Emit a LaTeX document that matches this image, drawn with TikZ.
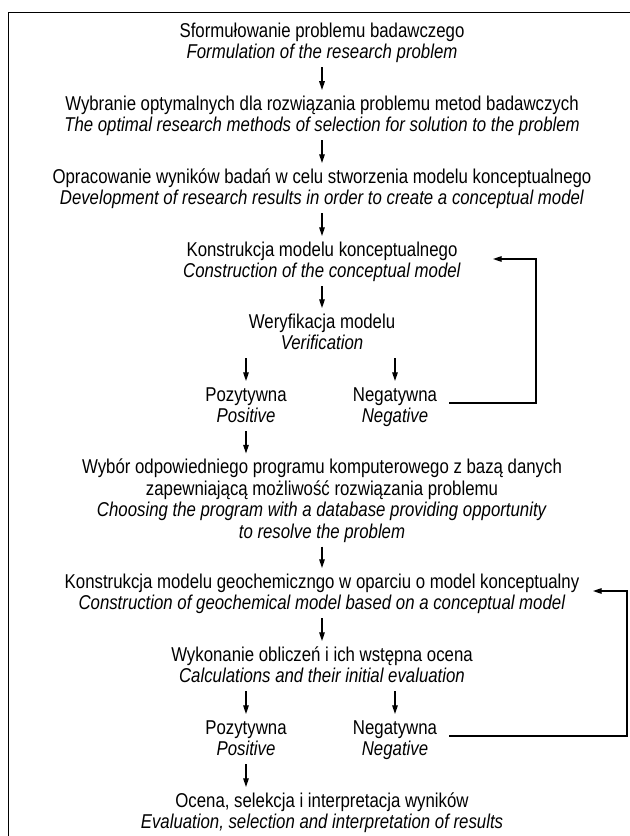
\documentclass[tikz,border=0pt]{standalone}
\usepackage{fontspec}
\setmainfont{Liberation Sans}[FakeStretch=0.84]
\usetikzlibrary{arrows.meta}
\newcommand{\lnstrut}{\rule[-3pt]{0pt}{15pt}}

\begin{document}
\begin{tikzpicture}[x=0.75pt,y=-0.75pt,
  txt/.style={align=center,inner xsep=0pt,inner ysep=3pt,font=\fontsize{15pt}{15pt}\selectfont},
  arr/.style={-{Triangle[length=6.5pt,width=4.2pt]},line width=0.85pt}]

\useasboundingbox (0,0) rectangle (630,836);
\draw[line width=0.75pt] (8,850) -- (8,12) -- (640,12);

\node[txt] (form) at (322,42) {\lnstrut Sformułowanie problemu badawczego\\\lnstrut\textit{Formulation of the research problem}};
\node[txt] (meth) at (322,115) {\lnstrut Wybranie optymalnych dla rozwiązania problemu metod badawczych\\\lnstrut\textit{The optimal research methods of selection for solution to the problem}};
\node[txt] (dev) at (322,188) {\lnstrut Opracowanie wyników badań w celu stworzenia modelu konceptualnego\\\lnstrut\textit{Development of research results in order to create a conceptual model}};
\node[txt] (cmod) at (322,261) {\lnstrut Konstrukcja modelu konceptualnego\\\lnstrut\textit{Construction of the conceptual model}};
\node[txt] (ver) at (322,333) {\lnstrut Weryfikacja modelu\\\lnstrut\textit{Verification}};
\node[txt] (pos1) at (246,406) {\lnstrut Pozytywna\\\lnstrut\textit{Positive}};
\node[txt] (neg1) at (395,406) {\lnstrut Negatywna\\\lnstrut\textit{Negative}};
\node[txt] (prog) at (322,500) {\lnstrut Wybór odpowiedniego programu komputerowego z bazą danych\\\lnstrut zapewniającą możliwość rozwiązania problemu\\\lnstrut\textit{Choosing the program with a database providing opportunity}\\\lnstrut\textit{to resolve the problem}};
\node[txt] (gmod) at (322,593) {\lnstrut Konstrukcja modelu geochemiczngo w oparciu o model konceptualny\\\lnstrut\textit{Construction of geochemical model based on a conceptual model}};
\node[txt] (calc) at (322,666) {\lnstrut Wykonanie obliczeń i ich wstępna ocena\\\lnstrut\textit{Calculations and their initial evaluation}};
\node[txt] (pos2) at (246,739) {\lnstrut Pozytywna\\\lnstrut\textit{Positive}};
\node[txt] (neg2) at (395,739) {\lnstrut Negatywna\\\lnstrut\textit{Negative}};
\node[txt] (eval) at (322,812) {\lnstrut Ocena, selekcja i interpretacja wyników\\\lnstrut\textit{Evaluation, selection and interpretation of results}};

\coordinate (back1) at (536,259);
\coordinate (in1) at (493,259);
\coordinate (back2) at (627,591);
\coordinate (in2) at (593,591);

\draw[arr] (form) -- (meth);
\draw[arr] (meth) -- (dev);
\draw[arr] (dev) -- (cmod);
\draw[arr] (cmod) -- (ver);
\draw[arr] (ver.south -| pos1) -- (pos1);
\draw[arr] (ver.south -| neg1) -- (neg1);
\draw[arr] (pos1) -- (pos1 |- prog.north);
\draw[arr] ([xshift=9pt,yshift=2.25pt]neg1.east) -| (back1) -- (in1);

\draw[arr] (prog) -- (gmod);
\draw[arr] (gmod) -- (calc);
\draw[arr] (calc.south -| pos2) -- (pos2);
\draw[arr] (calc.south -| neg2) -- (neg2);
\draw[arr] (pos2) -- (pos2 |- eval.north);
\draw[arr] ([xshift=9pt,yshift=2.25pt]neg2.east) -| (back2) -- (in2);

\end{tikzpicture}
\end{document}
